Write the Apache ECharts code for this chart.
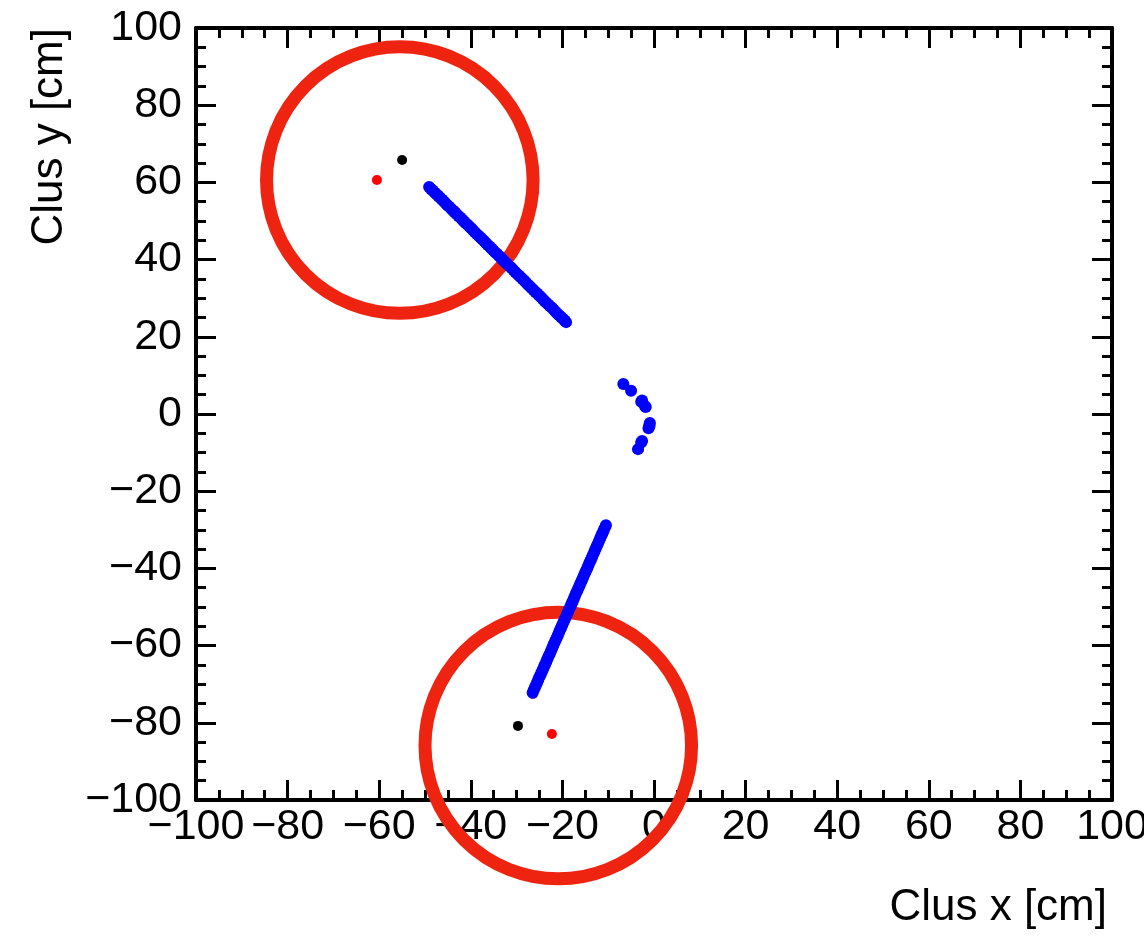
<!DOCTYPE html>
<html>
<head>
<meta charset="utf-8">
<script src="https://cdn.jsdelivr.net/npm/echarts@6/dist/echarts.min.js"></script>
<style>html,body{margin:0;padding:0;background:#fff}#c{width:1144px;height:937px}</style>
</head>
<body>
<div id="c"></div>
<script>
// ---- data ----
const xTitle = 'Clus x [cm]';
const yTitle = 'Clus y [cm]';
const axisMin = -100, axisMax = 100, axisStep = 20;

const blueTrackUpper = [
  [-49.1,58.8],[-48.7,58.3],[-48.3,57.9],[-47.9,57.4],[-47.5,56.9],[-47.1,56.5],[-46.7,56.0],[-46.3,55.6],
  [-45.9,55.1],[-45.5,54.6],[-45.1,54.1],[-44.7,53.7],[-44.3,53.2],[-43.9,52.7],[-43.5,52.2],[-43.1,51.8],
  [-42.7,51.3],[-42.3,50.9],[-41.9,50.4],[-41.5,49.9],[-41.1,49.4],[-40.7,49.0],[-40.3,48.5],[-39.9,48.1],
  [-39.5,47.6],[-39.1,47.1],[-38.7,46.6],[-38.3,46.2],[-37.9,45.7],[-37.5,45.3],[-37.1,44.8],[-36.7,44.3],
  [-36.3,43.8],[-35.9,43.4],[-35.5,42.9],[-35.1,42.4],[-34.7,41.9],[-34.3,41.5],[-33.9,41.0],[-33.5,40.6],
  [-33.1,40.1],[-32.7,39.6],[-32.3,39.1],[-31.9,38.7],[-31.5,38.2],[-31.1,37.8],[-30.7,37.3],[-30.3,36.8],
  [-29.9,36.3],[-29.5,35.9],[-29.1,35.4],[-28.7,35.0],[-28.3,34.5],[-27.9,34.0],[-27.5,33.5],[-27.1,33.1],
  [-26.7,32.6],[-26.3,32.1],[-25.9,31.6],[-25.5,31.2],[-25.1,30.7],[-24.7,30.3],[-24.3,29.8],[-23.9,29.3],
  [-23.5,28.8],[-23.1,28.4],[-22.7,27.9],[-22.3,27.5],[-21.9,27.0],[-21.5,26.5],[-21.1,26.0],[-20.7,25.6],
  [-20.3,25.1],[-19.9,24.7],[-19.5,24.2],[-19.2,23.8]
];
const blueArc = [
  [-6.7,7.8],[-5.0,6.0],[-2.8,3.2],[-2.6,3.5],[-2.0,2.1],[-1.8,1.8],
  [-0.9,-2.3],[-1.0,-2.8],[-1.0,-3.2],[-1.2,-3.7],[-2.8,-7.4],[-2.6,-7.0],[-3.5,-9.1]
];
const blueTrackLower = [
  [-26.5,-72.2],[-26.25,-71.5],[-26.0,-70.8],[-25.75,-70.2],[-25.5,-69.5],[-25.25,-68.8],[-25.0,-68.1],
  [-24.75,-67.5],[-24.5,-66.8],[-24.25,-66.1],[-24.0,-65.4],[-23.75,-64.8],[-23.5,-64.1],[-23.25,-63.4],
  [-23.0,-62.7],[-22.75,-62.1],[-22.5,-61.4],[-22.25,-60.7],[-22.0,-60.0],[-21.75,-59.3],[-21.5,-58.6],
  [-21.25,-58.0],[-21.0,-57.3],[-20.75,-56.6],[-20.5,-55.9],[-20.25,-55.3],[-20.0,-54.6],[-19.75,-53.9],
  [-19.5,-53.2],[-19.25,-52.6],[-19.0,-51.9],[-18.75,-51.2],[-18.5,-50.5],[-18.25,-49.9],[-18.0,-49.2],
  [-17.75,-48.5],[-17.5,-47.8],[-17.25,-47.1],[-17.0,-46.4],[-16.75,-45.8],[-16.5,-45.1],[-16.25,-44.4],
  [-16.0,-43.7],[-15.75,-43.1],[-15.5,-42.4],[-15.25,-41.7],[-15.0,-41.0],[-14.75,-40.4],[-14.5,-39.7],
  [-14.25,-39.0],[-14.0,-38.3],[-13.75,-37.7],[-13.5,-37.0],[-13.25,-36.3],[-13.0,-35.6],[-12.75,-34.9],
  [-12.5,-34.2],[-12.25,-33.6],[-12.0,-32.9],[-11.75,-32.2],[-11.5,-31.5],[-11.25,-30.9],[-11.0,-30.2],
  [-10.75,-29.5],[-10.5,-28.8]
];
const redPoints = [
  [-60.5,60.6],[-22.3,-82.9],
  [-48.3,58.2],[-47.0,56.7],[-43.4,52.6],[-41.6,50.4],
  [-26.4,-72.5],[-20.1,-55.0],[-11.0,-30.6],
  [-6.5,7.6],[-2.6,3.0],[-0.9,-2.6],[-3.3,-9.2]
];
const blackPoints = [[-55.0,65.8],[-29.7,-80.8],[-18.1,-48.9]];
const circleCenters = [[-55.5,60.6],[-20.9,-85.9]];
const circleRadius = 29.1; // in x-axis units

// ---- chart ----
const chart = echarts.init(document.getElementById('c'), null, {renderer:'canvas'});
const font = 'Liberation Sans, Arial, Helvetica, sans-serif';
function mkAxis(pos, isMain) {
  return {
    type:'value', position:pos, min:axisMin, max:axisMax, interval:axisStep,
    axisLine:{show:true, onZero:false, lineStyle:{color:'#000', width:4}},
    axisTick:{show:true, inside:true, length:20, lineStyle:{color:'#000', width:3}},
    minorTick:{show:true, splitNumber:4, length:10, lineStyle:{color:'#000', width:3}},
    splitLine:{show:false},
    axisLabel:{show:isMain, color:'#000', fontSize:43, fontFamily:font, margin:pos==='bottom'?6:14,
      showMinLabel:true, showMaxLabel:true, hideOverlap:false,
      formatter:v=> (v<0?'\u2212'+Math.abs(v):String(v))}
  };
}
const option = {
  backgroundColor:'#fff',
  animation:false,
  grid:{left:196, right:32, top:28, bottom:137, containLabel:false, outerBoundsMode:'none'},
  xAxis:[mkAxis('bottom',true), mkAxis('top',false)],
  yAxis:[mkAxis('left',true), mkAxis('right',false)],
  graphic:[
    {type:'text', right:37, top:886, style:{text:xTitle, font:'44px '+font, fill:'#000', textAlign:'right'}},
    {type:'text', left:28, top:28, rotation:Math.PI/2, originX:0, originY:0,
     style:{text:yTitle, font:'44px '+font, fill:'#000'}}
  ],
  series:[
    {
      type:'custom', coordinateSystem:'cartesian2d', clip:false, z:1,
      data:circleCenters,
      renderItem:function(params, api){
        const c = api.coord([api.value(0), api.value(1)]);
        const r = api.size([circleRadius, 0])[0];
        return {type:'circle', shape:{cx:c[0], cy:c[1], r:r},
          style:{fill:'none', stroke:'#ee2310', lineWidth:13}};
      }
    },
    {type:'scatter', z:2, symbol:'circle', symbolSize:10, data:redPoints, itemStyle:{color:'#ff0000', opacity:1}},
    {type:'scatter', z:3, symbol:'circle', symbolSize:10, data:blackPoints, itemStyle:{color:'#000', opacity:1}},
    {type:'scatter', z:4, symbol:'circle', symbolSize:12, data:blueTrackUpper, itemStyle:{color:'#0000ff', opacity:1}},
    {type:'scatter', z:4, symbol:'circle', symbolSize:12, data:blueArc, itemStyle:{color:'#0000ff', opacity:1}},
    {type:'scatter', z:4, symbol:'circle', symbolSize:12, data:blueTrackLower, itemStyle:{color:'#0000ff', opacity:1}}
  ]
};
chart.setOption(option);
</script>
</body>
</html>
